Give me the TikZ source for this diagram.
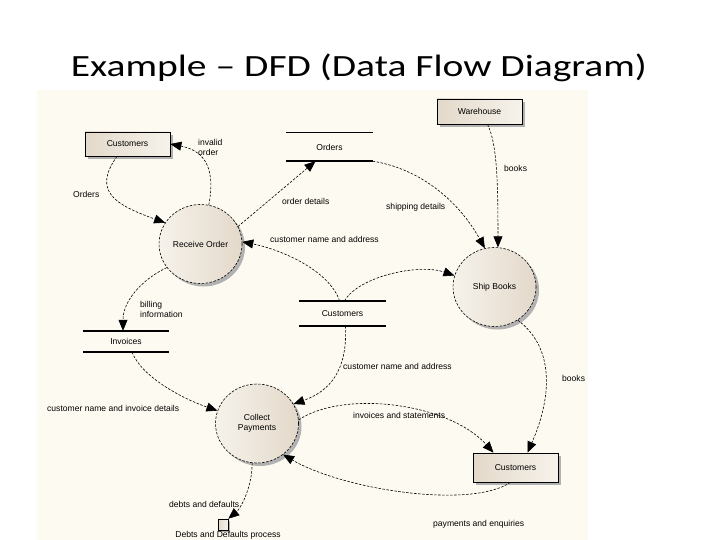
\documentclass[tikz,border=0pt]{standalone}
\usepackage{fontspec}
\setmainfont{Liberation Sans}
\newfontfamily\titlefont{Carlito}
\usetikzlibrary{arrows.meta,shadows,shapes.geometric}

\definecolor{paper}{HTML}{FDFBF1}
\definecolor{tanlight}{HTML}{F6F2EB}
\definecolor{tandark}{HTML}{E3D9CA}

\begin{document}
\begin{tikzpicture}[x=1bp,y=-1bp,
  every node/.style={font=\fontsize{8.6}{10}\selectfont,inner sep=0pt},
  flow/.style={line width=0.6bp,dash pattern=on 2.5bp off 1.5bp,-{Triangle[length=11bp,width=9bp]}},
  entity/.style={draw,line width=0.7bp,minimum width=85bp,left color=tandark,right color=tanlight,
    drop shadow={shadow xshift=3bp,shadow yshift=-3bp,fill=black!30,opacity=1}},
  process/.style={ellipse,draw,line width=0.6bp,dash pattern=on 2.5bp off 1.5bp,minimum width=83bp,minimum height=79bp,
    left color=tanlight,right color=tandark,align=center,
    drop shadow={shadow xshift=3bp,shadow yshift=-3bp,fill=black!30,opacity=1}},
  store/.style={minimum width=86bp},
  thinbar/.style={line width=0.8bp},
  thickbar/.style={line width=1.8bp},
  lbl/.style={anchor=west,align=left}]
\useasboundingbox (0,0) rectangle (720,540);
\fill[white] (0,0) rectangle (720,540);
\fill[paper] (37,90) rectangle (588,540);
\node[font=\titlefont\fontsize{31}{36}\selectfont,xscale=1.28,anchor=base] (title) at (359,77) {Example \textendash{} DFD (Data Flow Diagram)};
\node[entity,minimum height=24bp] (cust1) at (127.5,144) {Customers};
\node[entity,minimum height=25bp] (wh) at (479.5,111.5) {Warehouse};
\node[entity,minimum height=29bp] (cust2) at (515.5,467.5) {Customers};
\node[process] (ro) at (200.5,244) {Receive Order};
\node[process] (sb) at (494.5,287) {Ship Books};
\node[process] (cp) at (257,423.5) {Collect\\Payments};
\node[store,minimum height=28bp] (ords) at (329.5,147) {Orders};
\draw[thinbar] (ords.north west) -- (ords.north east);
\draw[thickbar] (ords.south west) -- (ords.south east);
\node[store,minimum height=25bp] (cstore) at (342.5,313.5) {Customers};
\draw[thickbar] (cstore.north west) -- (cstore.north east);
\draw[thickbar] (cstore.south west) -- (cstore.south east);
\node[store,minimum height=21bp] (inv) at (126,341.5) {Invoices};
\draw[thickbar] (inv.north west) -- (inv.north east);
\draw[thickbar] (inv.south west) -- (inv.south east);
\node[draw,line width=0.5bp,minimum width=10bp,minimum height=11bp,left color=tandark,right color=tanlight,
  drop shadow={shadow xshift=2bp,shadow yshift=-2bp,fill=black!30,opacity=1}] (debts) at (223,524.5) {};
\node[anchor=base] (debtslbl) at (228,537) {Debts and Defaults process};
\draw[flow] ([xshift=-10.5bp]cust1.south) .. controls +(-25,35) and +(-50,-18) .. (ro.149);
\draw[flow] (ro.78) .. controls +(8,-42) and +(30,6) .. (cust1.east);
\draw[flow] (ro.25) -- ([xshift=-14bp]ords.south);
\draw[flow] (ords.south east) .. controls +(50,8) and +(-25,-45) .. (sb.104);
\draw[flow] ([xshift=8bp]wh.south) .. controls +(10,20) and +(0,-60) .. (sb.85);
\draw[flow] ([xshift=-3bp]cstore.north) .. controls +(-10,-30) and +(40,8) .. (ro.3);
\draw[flow] ([xshift=2bp]cstore.north) .. controls +(15,-25) and +(-35,-12) .. (sb.164);
\draw[flow] (ro.-145) .. controls +(-25,12) and +(0,-30) .. ([xshift=-3bp]inv.north);
\draw[flow] ([xshift=6bp]inv.south) .. controls +(10,25) and +(-35,-12) .. (cp.162);
\draw[flow] ([xshift=3bp]cstore.south) .. controls +(2,45) and +(36,-13) .. (cp.28);
\draw[flow] (cp.5) .. controls +(45,-30) and +(-45,-50) .. ([xshift=-22bp]cust2.north);
\draw[flow] (sb.-55) .. controls +(40,30) and +(22,-50) .. ([xshift=12bp]cust2.north);
\draw[flow] ([xshift=-5bp]cust2.south) .. controls +(-40,27) and +(60,35) .. (cp.-50);
\draw[flow] (cp.-97) .. controls +(0,25) and +(12,-10) .. (debts.north east);
\node[lbl] (l1) at (73,194) {Orders};
\node[lbl] (l2) at (198,147) {invalid\\order};
\node[lbl] (l3) at (282,201) {order details};
\node[lbl] (l4) at (386,207) {shipping details};
\node[lbl] (l5) at (504,168) {books};
\node[lbl] (l6) at (270,239) {customer name and address};
\node[lbl] (l7) at (140,309) {billing\\information};
\node[lbl] (l8) at (47,408) {customer name and invoice details};
\node[lbl] (l9) at (343,366) {customer name and address};
\node[lbl] (l10) at (562,378) {books};
\node[lbl] (l11) at (353,415) {invoices and statements};
\node[lbl] (l12) at (169,504) {debts and defaults};
\node[lbl] (l13) at (433,524) {payments and enquiries};
\end{tikzpicture}
\end{document}
